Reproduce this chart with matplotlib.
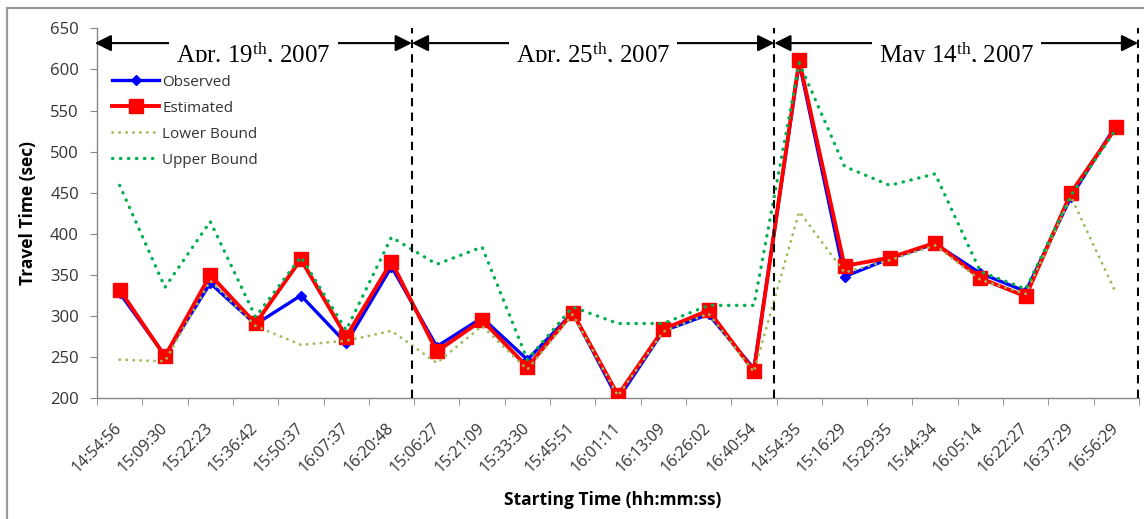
import matplotlib
matplotlib.use("Agg")
import matplotlib.pyplot as plt
from matplotlib.patches import Rectangle
from matplotlib.transforms import Bbox, TransformedBbox

# ---- data -------------------------------------------------------------
start_times = ['14:54:56', '15:09:30', '15:22:23', '15:36:42', '15:50:37',
               '16:07:37', '16:20:48',
               '15:06:27', '15:21:09', '15:33:30', '15:45:51', '16:01:11',
               '16:13:09', '16:26:02', '16:40:54',
               '14:54:35', '15:16:29', '15:29:35', '15:44:34', '16:05:14',
               '16:22:27', '16:37:29', '16:56:29']

observed = [328, 252, 340, 290, 325, 267, 360,
            263, 298, 247, 304, 199, 282, 302, 236,
            608, 348, 370, 388, 352, 330, 445, 533]
estimated = [332, 251, 350, 291, 369, 275, 366,
             257, 295, 238, 304, 204, 284, 307, 233,
             611, 361, 371, 389, 346, 324, 450, 530]
lower_bound = [247, 245, 343, 288, 265, 270, 282,
               243, 288, 235, 302, 203, 281, 303, 232,
               427, 353, 368, 386, 344, 327, 445, 327]
upper_bound = [459, 335, 415, 299, 372, 283, 396,
               363, 384, 247, 311, 291, 291, 313, 313,
               608, 482, 459, 473, 354, 333, 447, 528]

day_labels = [r'Apr. 19$^{\mathrm{th}}$, 2007',
              r'Apr. 25$^{\mathrm{th}}$, 2007',
              r'May 14$^{\mathrm{th}}$, 2007']
day_sizes = [7, 8, 8]

y_ticks = [200, 250, 300, 350, 400, 450, 500, 550, 600, 650]

# ---- style ------------------------------------------------------------
plt.rcParams['font.family'] = ['Open Sans', 'DejaVu Sans']
plt.rcParams['mathtext.fontset'] = 'custom'
plt.rcParams['mathtext.rm'] = 'Liberation Serif'
plt.rcParams['mathtext.it'] = 'Liberation Serif:italic'

AXIS_GREY = '#868686'
TEXT_GREY = '#333333'

fig = plt.figure(figsize=(11.44, 5.19), dpi=100)
ax = fig.add_axes([97 / 1144, 1 - 398.3 / 519, 1042 / 1144, 370 / 519])

x = list(range(len(start_times)))

ax.plot(x, observed, color='#0000FF', lw=2.4, marker='D', ms=5.5,
        label='Observed', zorder=3)
ax.plot(x, estimated, color='#FF0000', lw=2.8, marker='s', ms=9.5,
        label='Estimated', zorder=4)
ax.plot(x, lower_bound, color='#9BBB59', lw=2.0, ls=(0, (0.1, 2.4)),
        dash_capstyle='round', label='Lower Bound', zorder=5)
ax.plot(x, upper_bound, color='#00B050', lw=2.4, ls=(0, (0.1, 2.3)),
        dash_capstyle='round', label='Upper Bound', zorder=6)

ax.set_xlim(-0.5, len(start_times) - 0.5)
ax.set_ylim(200, 650)

# day separators and spans
bounds = [-0.5]
acc = -0.5
for n in day_sizes:
    acc += n
    bounds.append(acc)
sep_x = [b - 0.05 for b in bounds[1:]]
sep_x[-1] = bounds[-1] - 0.02
for sx in sep_x:
    ax.axvline(sx, color='black', lw=1.5, ls=(0, (4, 3)), zorder=7)

arrow_y = 632
clip = TransformedBbox(Bbox([[-1, 608.6], [24, 700]]), ax.transData)
starts = [-0.55] + sep_x[:-1]
for lbl, x0, x1 in zip(day_labels, starts, sep_x):
    ax.annotate('', xy=(x1, arrow_y), xytext=(x0, arrow_y),
                arrowprops=dict(arrowstyle='<|-|>,head_length=0.5,head_width=0.25',
                                mutation_scale=20, color='black', lw=1.5,
                                shrinkA=0, shrinkB=0),
                annotation_clip=False, zorder=8)
    t = ax.text((x0 + x1) / 2, 607.5, lbl, ha='center', va='baseline',
                fontsize=18, family='Liberation Serif', color='black',
                bbox=dict(facecolor='white', edgecolor='none', pad=5),
                zorder=9)
    t.set_clip_box(clip)
    t.set_clip_on(True)

# axes styling
for side in ('top', 'right'):
    ax.spines[side].set_visible(False)
for side in ('left', 'bottom'):
    ax.spines[side].set_color(AXIS_GREY)
    ax.spines[side].set_linewidth(1.0)

ax.set_yticks(y_ticks)
ax.tick_params(axis='y', direction='out', length=5, color=AXIS_GREY,
               labelsize=12, labelcolor=TEXT_GREY, pad=8)
ax.set_xticks(x)
ax.set_xticklabels(start_times, rotation=45, ha='right', va='center',
                   rotation_mode='anchor')
ax.tick_params(axis='x', which='major', length=0, labelsize=11.5,
               labelcolor=TEXT_GREY, pad=20)
ax.set_xticks([b - 0.5 for b in range(len(start_times) + 1)], minor=True)
ax.tick_params(axis='x', which='minor', direction='out', length=5,
               color=AXIS_GREY)

ax.set_ylabel('Travel Time (sec)', fontsize=12.5, fontweight='bold',
              color='black', va='center')
ax.yaxis.set_label_coords(-0.066, 0.5)
ax.set_xlabel('Starting Time (hh:mm:ss)', fontsize=12.5, fontweight='bold',
              color='black', va='center')
ax.xaxis.set_label_coords(0.495, -0.275)

leg = ax.legend(loc='upper left', bbox_to_anchor=(0.0144, 0.875),
                frameon=False, fontsize=11, handlelength=3.1,
                handletextpad=0.2, labelspacing=0.72, borderpad=0,
                borderaxespad=0, numpoints=1)
for txt in leg.get_texts():
    txt.set_color(TEXT_GREY)

# outer frame
fig.patches.append(Rectangle((7 / 1144, -0.2), 1.2, 1.2 - 8 / 519,
                             transform=fig.transFigure, fill=False,
                             edgecolor='#9a9a9a', lw=1.6))

fig.savefig('out.png', dpi=100)
